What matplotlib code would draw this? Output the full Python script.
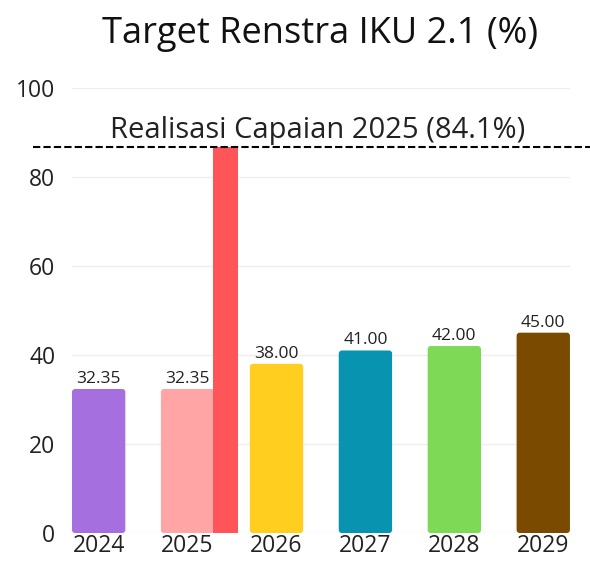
import matplotlib
matplotlib.use("Agg")
import matplotlib.pyplot as plt
from matplotlib.patches import FancyBboxPatch

plt.rcParams['font.family'] = ['Open Sans', 'DejaVu Sans']

years = ["2024", "2025", "2026", "2027", "2028", "2029"]
targets = [32.35, 32.35, 38.00, 41.00, 42.00, 45.00]
bar_colors = ["#A66FE0", "#FFA5A5", "#FFCE1F", "#0893B0", "#7ED957", "#7A4A00"]
realisasi_year = "2025"
realisasi_label = "84.1"
realisasi_drawn = 86.7   # height

fig = plt.figure(figsize=(5.9, 5.65), dpi=100)
ax = fig.add_axes([0.122, 0.0566, 0.844, 0.788])


def round_bars(bars, r=0.035):
    # swap plain rectangles for slightly rounded ones
    for b in bars:
        bx, by = b.get_x(), b.get_y()
        w, h = b.get_width(), b.get_height()
        p = FancyBboxPatch((bx, by), w, h, boxstyle=f"round,pad=0,rounding_size={r}",
                           mutation_aspect=20, fc=b.get_facecolor(), ec="none",
                           zorder=b.get_zorder())
        b.remove()
        ax.add_patch(p)


x = list(range(len(years)))
round_bars(ax.bar(x, targets, width=0.6, color=bar_colors, zorder=2))
ri = years.index(realisasi_year)
ax.bar(ri + 0.43, realisasi_drawn, width=0.28, color="#FF5558", zorder=3)

for xi, v in zip(x, targets):
    ax.annotate(f"{v:.2f}", (xi, v), xytext=(0, 1.5), textcoords="offset points",
                ha="center", va="bottom", fontsize=12.5, color="#222222")

ax.axhline(realisasi_drawn, xmin=-0.078, xmax=1.05, color="black", lw=1.5,
           ls=(0, (3.5, 1.5)), clip_on=False, zorder=4)
ax.text(0.494, realisasi_drawn + 0.4, f"Realisasi Capaian {realisasi_year} ({realisasi_label}%)",
        transform=ax.get_yaxis_transform(),
        ha="center", va="bottom", fontsize=21, color="#222222")

ax.set_xlim(-0.3, 5.3)
ax.set_ylim(0, 100)
ax.set_yticks([0, 20, 40, 60, 80, 100])
ax.set_xticks(x)
ax.set_xticklabels(years)
ax.tick_params(axis="both", length=0, labelsize=16.5, colors="#222222")
ax.tick_params(axis="y", pad=12)
ax.tick_params(axis="x", pad=1)
ax.grid(axis="y", color="#EEEEEE", lw=1, zorder=0)
for s in ax.spines.values():
    s.set_visible(False)

fig.text(0.543, 0.94, "Target Renstra IKU 2.1 (%)", ha="center", va="center",
         fontsize=26, color="#111111")

fig.savefig("out.png", dpi=100)
